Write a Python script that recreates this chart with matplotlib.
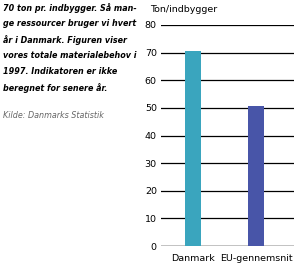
import matplotlib
matplotlib.use("Agg")
import matplotlib.pyplot as plt

categories = ["Danmark", "EU-gennemsnit"]
values = [70.5, 50.5]
colors = ["#3AA5BE", "#4855A8"]
yticks = [0, 10, 20, 30, 40, 50, 60, 70, 80]

text_lines = ["70 ton pr. indbygger. Så man-",
              "ge ressourcer bruger vi hvert",
              "år i Danmark. Figuren viser",
              "vores totale materialebehov i",
              "1997. Indikatoren er ikke",
              "beregnet for senere år."]
source = "Kilde: Danmarks Statistik"

W, H = 299, 264
fig = plt.figure(figsize=(W/100, H/100), dpi=100)
ax = fig.add_axes([161/W, 1-246/H, (294-161)/W, (246-25)/H])
ax.bar(range(len(categories)), values, width=0.254, color=colors, zorder=3)
ax.set_xlim(-0.508, 1.603)
ax.set_ylim(0, 80)
ax.set_yticks(yticks)
ax.yaxis.grid(True, color="black", linewidth=0.9, zorder=1)
ax.set_xticks(range(len(categories)))
ax.set_xticklabels(categories, fontsize=6.8)
ax.tick_params(axis="y", labelsize=6.8, length=0, pad=3)
ax.tick_params(axis="x", length=0, pad=6)
for s in ax.spines.values():
    s.set_visible(False)
ax.axhline(0, color="black", linewidth=0.9, zorder=2)

fig.text(150/W, 1-10/H, "Ton/indbygger", fontsize=6.8, va="center", ha="left")
for i, line in enumerate(text_lines):
    fig.text(3/W, 1-(8+16*i)/H, line, fontsize=5.8, fontweight="bold",
             fontstyle="italic", va="center", ha="left")
fig.text(3/W, 1-116/H, source, fontsize=5.8, fontstyle="italic",
         color="#666666", va="center", ha="left")
fig.savefig("out.png", dpi=100)
